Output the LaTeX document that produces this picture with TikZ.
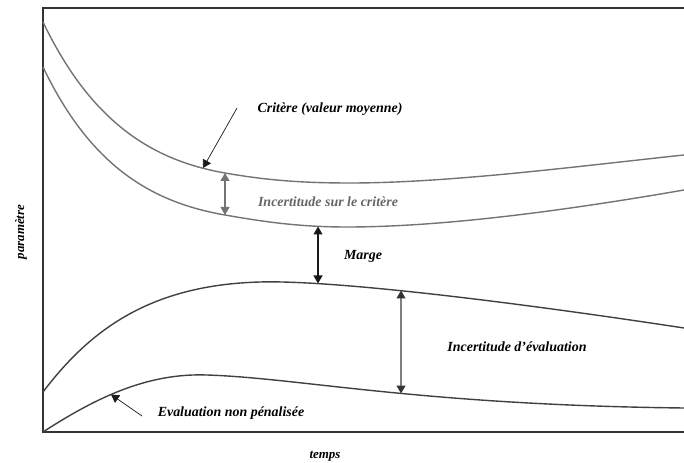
\documentclass[tikz,border=0pt]{standalone}
\usepackage{fontspec}
\setmainfont{Liberation Serif}
\usetikzlibrary{arrows.meta}
\tikzset{
    axis/.style = {line width=1.6bp,draw=black!80},
    crit/.style = {line width=1.4bp,draw=black!55},
    evalc/.style = {line width=1.4bp,draw=black!75},
    lbl/.style = {font=\fontsize{14}{16}\selectfont\bfseries\itshape,inner sep=0},
    axlbl/.style = {font=\fontsize{13}{15}\selectfont\bfseries\itshape,inner sep=0}
}
\tikzset{
    pointer/.style = {-{Triangle[length=8bp,width=9bp]},line width=0.7bp,black!90},
    span/.style = {{Triangle[length=8bp,width=9bp]}-{Triangle[length=8bp,width=9bp]},line width=1.1bp},
    graytip/.style = {{Triangle[length=8bp,width=9bp,color=black!80]}-{Triangle[length=8bp,width=9bp,color=black!80]},line width=1.1bp,black!50}
}

\begin{document}
\begin{tikzpicture}[x=1bp,y=-1bp]
    \useasboundingbox (0,0) rectangle (684,463);
    % Axes
    \path (43,8) coordinate (top)
        (43,432) coordinate (origin)
        (684,8) coordinate (topend)
        (684,432) coordinate (xend)
    ;
    \draw[axis] (topend) -- (top) -- (origin) -- (xend);
    % Curves
    \draw[crit] (43,22) .. controls (90,120) and (150,160) .. (225,173)
        .. controls (265,180) and (300,183) .. (350,183)
        .. controls (450,183) and (580,166) .. (684,155);
    \draw[crit] (43,67) .. controls (90,165) and (150,202) .. (225,215)
        .. controls (265,222) and (300,227) .. (347,227)
        .. controls (450,227) and (580,208) .. (684,190);
    \draw[evalc] (origin |- 0,392) .. controls (90,330) and (150,285) .. (260,282)
        .. controls (330,280) and (500,300) .. (684,328);
    \draw[evalc] (origin) .. controls (100,395) and (150,373) .. (207,375)
        .. controls (300,378) and (420,405) .. (684,408);
    % Points on the curves
    \path (203,168) coordinate (c1)
        (225,173) coordinate (c2) (225,215) coordinate (c3)
        (318,226.5) coordinate (m1) (318,283.5) coordinate (m2)
        (401,290.5) coordinate (e1) (401,393.5) coordinate (e2)
        (111,394.5) coordinate (n1)
    ;
    % Labels
    \node[lbl] (crit) at (330,109) {Critère (valeur moyenne)};
    \node[lbl,text=black!60] (unc) at (328,202) {Incertitude sur le critère};
    \node[lbl] (marge) at (363,256) {Marge};
    \node[lbl] (unev) at (517,347) {Incertitude d’évaluation};
    \node[lbl] (npen) at (231,413) {Evaluation non pénalisée};
    \node[axlbl] (temps) at (325,456) {temps};
    \node[axlbl,rotate=90] (param) at (21,232) {paramètre};
    \coordinate (cfrom) at (237,108);
    \coordinate (nfrom) at (142,416);
    % Arrows
    \draw[pointer] (cfrom) -- (c1);
    \draw[pointer] (nfrom) -- (n1);
    \draw[span,black!55] (c2) -- (c3);
    \draw[span,black!90] (m1) -- (m2);
    \draw[graytip] (e1) -- (e2);
\end{tikzpicture}
\end{document}
